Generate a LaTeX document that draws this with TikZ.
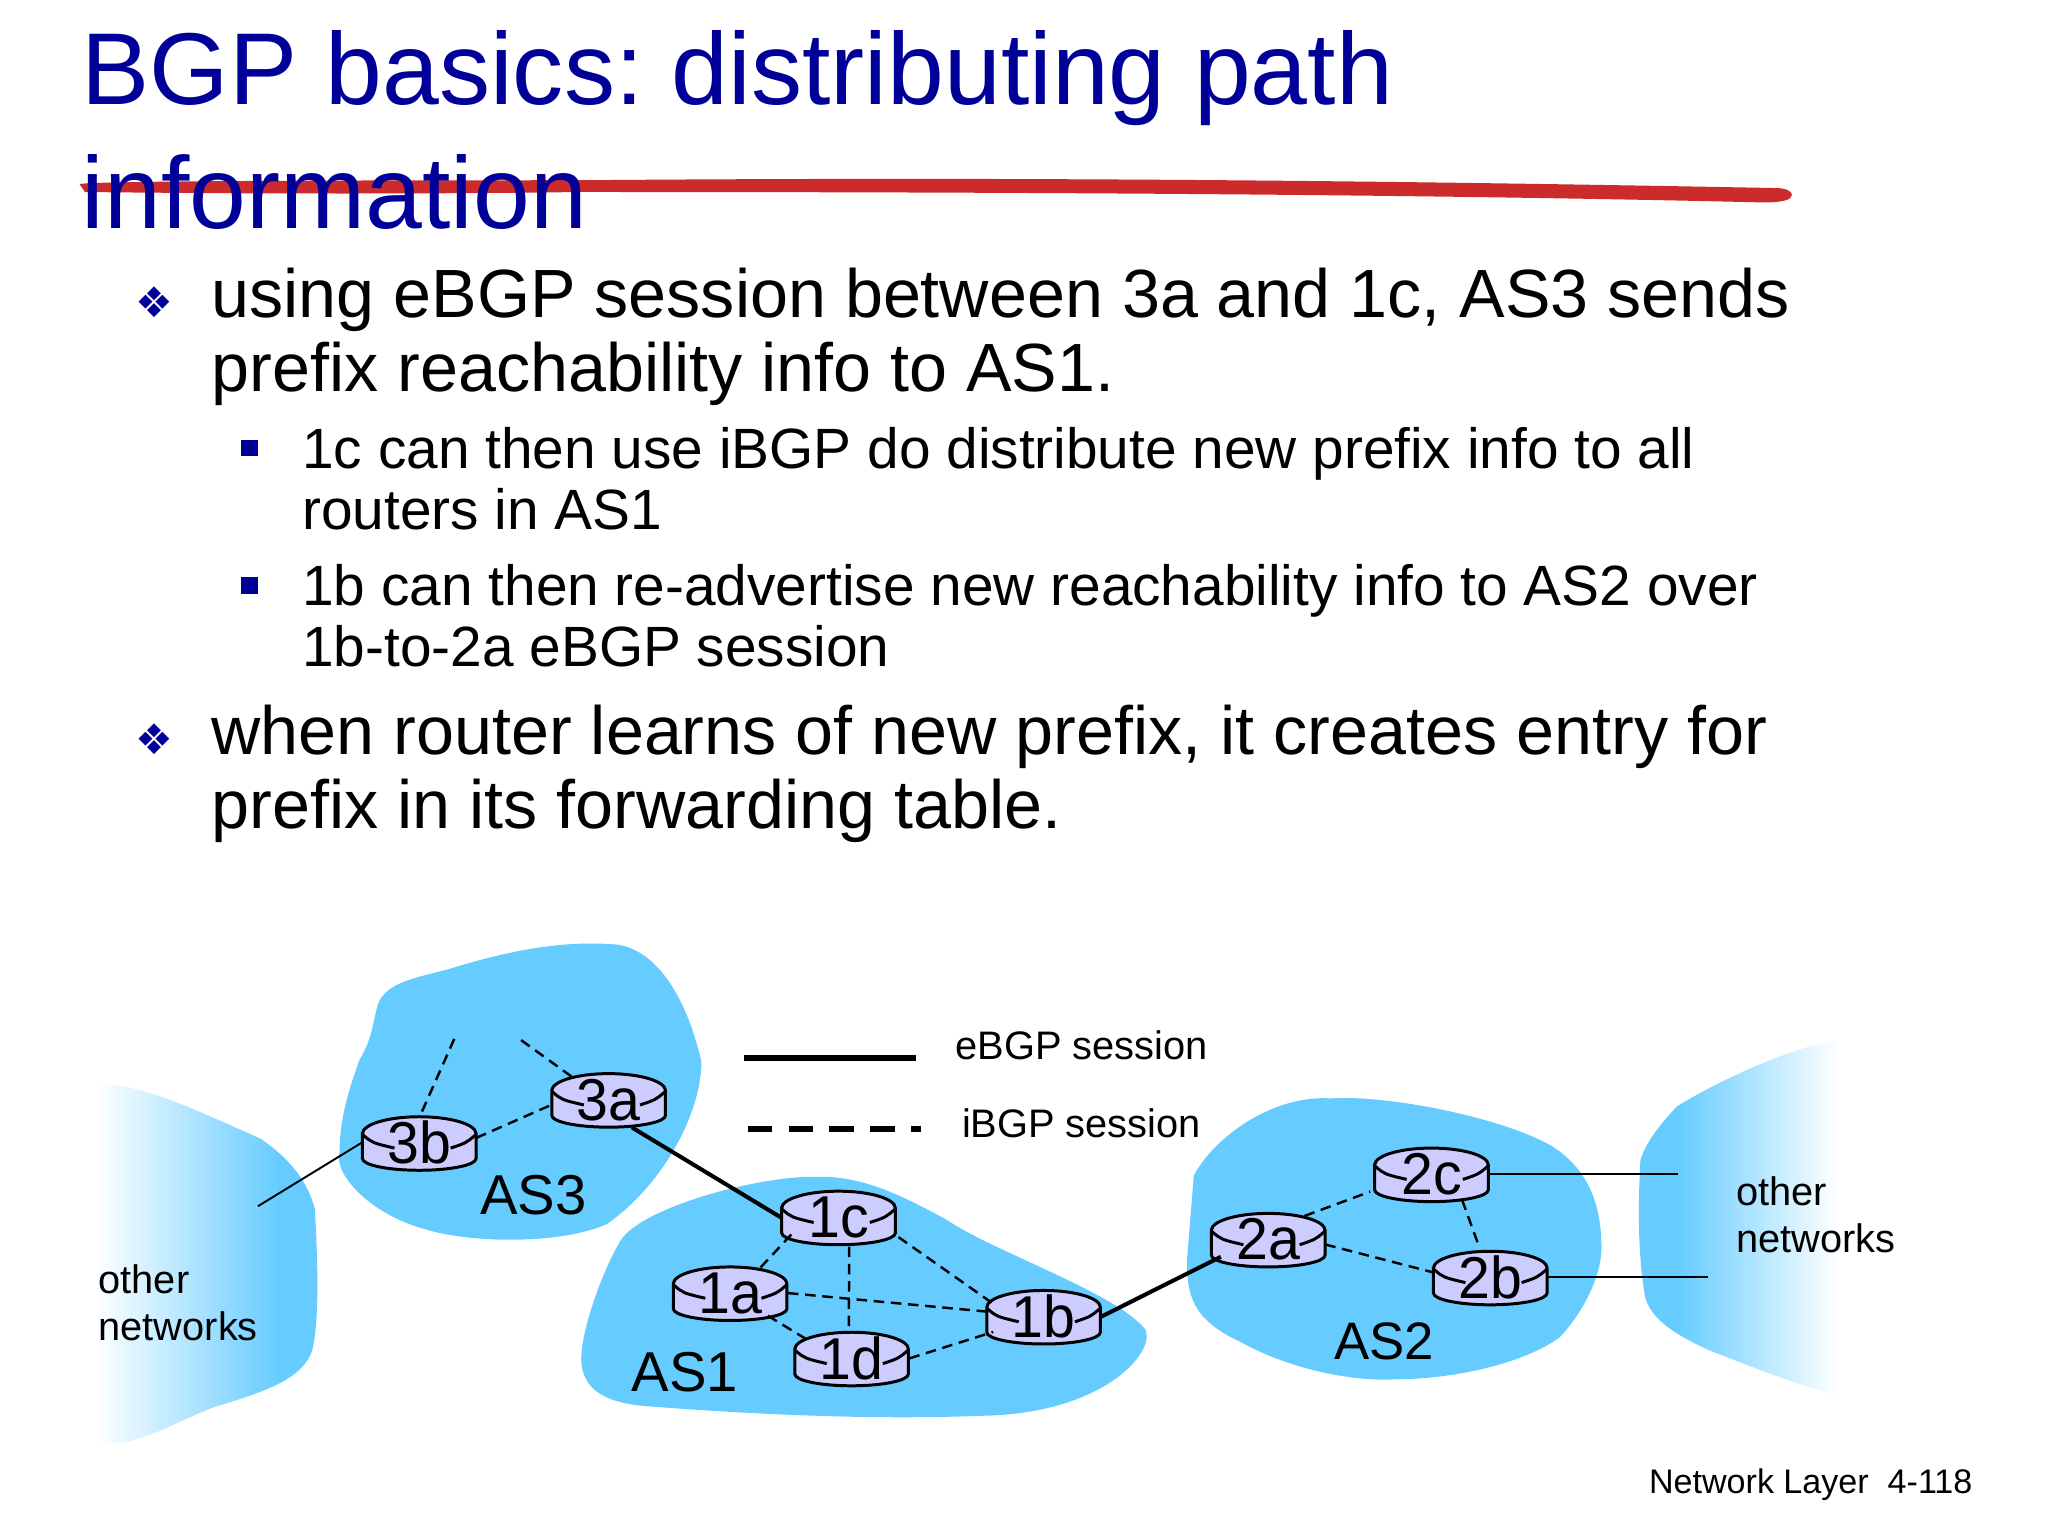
\documentclass[tikz,border=0pt]{standalone}
\usepackage{fontspec}
\setmainfont{Liberation Sans}
\newfontfamily\symbolfont{DejaVu Sans}
\newfontfamily\routerfont[FakeStretch=0.97]{Liberation Sans}
\usetikzlibrary{shapes.geometric, positioning, calc}
\definecolor{titleblue}{HTML}{000099}
\definecolor{cloudblue}{HTML}{66CCFF}
\definecolor{routerlilac}{HTML}{CCCCFF}
\definecolor{markred}{HTML}{CC2B2B}
\pgfdeclarehorizontalshading{fadeleft}{100bp}{color(0bp)=(white); color(26bp)=(white); color(66bp)=(cloudblue); color(100bp)=(cloudblue)}
\pgfdeclarehorizontalshading{faderight}{100bp}{color(0bp)=(cloudblue); color(34bp)=(cloudblue); color(69.5bp)=(white); color(100bp)=(white)}
\tikzset{
  titletext/.style={anchor=base west, inner sep=0pt, text=titleblue, font=\fontsize{29.06}{35}\selectfont},
  bigtext/.style={anchor=base west, inner sep=0pt, font=\fontsize{19.42}{21}\selectfont},
  smalltext/.style={anchor=base west, inner sep=0pt, font=\fontsize{16.16}{17.5}\selectfont},
  labeltext/.style={anchor=base west, inner sep=0pt, font=\fontsize{11.32}{13}\selectfont},
  astext/.style={anchor=base west, inner sep=0pt, font=\fontsize{16}{18}\selectfont},
  diamondbullet/.style={inner sep=0pt, text=titleblue, font=\symbolfont\fontsize{12}{14}\selectfont},
  squarebullet/.style={inner sep=0pt, minimum size=4.83pt, fill=titleblue},
  routerlabel/.style={ellipse, inner sep=0pt, minimum width=32.5pt, minimum height=15.5pt, font=\routerfont\fontsize{16.8}{17}\selectfont},
  routerline/.style={black, line width=0.85pt},
  session/.style={black, line width=0.7pt, dash pattern=on 3pt off 1.9pt},
  ebgp/.style={black, line width=1.15pt},
  outlink/.style={black, line width=0.55pt}
}
\begin{document}
\frenchspacing
\begin{tikzpicture}[x=0.013061cm, y=-0.013061cm]
  \useasboundingbox (0,0) rectangle (1568,1176);

  % Red mark under the title
  \fill[markred] (61,141) .. controls (64,139) and (200,138) .. (445,138)
    .. controls (800,135) and (1100,139) .. (1360,144)
    .. controls (1368,144) and (1372,147) .. (1372,149)
    .. controls (1372,153) and (1365,155) .. (1350,155)
    .. controls (1100,149) and (800,147) .. (445,147)
    .. controls (300,149) and (150,148) .. (65,147) -- cycle;

  % Title
  \node[titletext] (title1) at (62,80) {BGP basics: distributing path};
  \node[titletext] (title2) at (62,175) {information};

  % Bullets
  \node[diamondbullet] (bullet1) at (118,231) {❖};
  \node[bigtext] (line1) at (161.5,243) {using eBGP session between 3a and 1c, AS3 sends};
  \node[bigtext] (line2) at (161.5,299.5) {prefix reachability info to AS1.};
  \node[squarebullet] (bullet2) at (191,343) {};
  \node[smalltext] (line3) at (231,359) {1c can then use iBGP do distribute new prefix info to all};
  \node[smalltext] (line4) at (231,405.5) {routers in AS1};
  \node[squarebullet] (bullet3) at (191,448) {};
  \node[smalltext] (line5) at (231,463.5) {1b can then re-advertise new reachability info to AS2 over};
  \node[smalltext] (line6) at (231,510.5) {1b-to-2a eBGP session};
  \node[diamondbullet] (bullet4) at (118,566) {❖};
  \node[bigtext] (line7) at (161.5,578) {when router learns of new prefix, it creates entry for};
  \node[bigtext] (line8) at (161.5,634.5) {prefix in its forwarding table.};

  % Other networks clouds
  \shade[shading=fadeleft] (70,830) -- (75,830) .. controls (110,830) and (150,850) .. (200,872)
    .. controls (225,890) and (235,905) .. (241,925)
    .. controls (243,960) and (245,1010) .. (239,1034)
    .. controls (232,1055) and (205,1065) .. (165,1077)
    .. controls (135,1088) and (110,1105) .. (85,1105) -- (70,1105) -- cycle;
  \shade[shading=faderight] (1425,795) -- (1409,795) .. controls (1370,803) and (1320,825) .. (1284,847)
    .. controls (1270,862) and (1260,875) .. (1256,888)
    .. controls (1254,920) and (1254,960) .. (1259,990)
    .. controls (1262,1012) and (1290,1025) .. (1309,1034)
    .. controls (1340,1046) and (1380,1062) .. (1409,1069) -- (1425,1069) -- cycle;

  % Autonomous systems
  \fill[cloudblue] (470,723) .. controls (500,725) and (525,760) .. (537,813)
    .. controls (537,850) and (510,905) .. (465,937)
    .. controls (430,953) and (360,952) .. (325,941)
    .. controls (285,930) and (255,900) .. (260,882)
    .. controls (260,860) and (265,840) .. (275,812)
    .. controls (285,795) and (285,785) .. (289,770)
    .. controls (295,750) and (325,748) .. (350,740)
    .. controls (390,728) and (430,720) .. (470,723) -- cycle;
  \fill[cloudblue] (625,901) .. controls (660,900) and (690,915) .. (725,934)
    .. controls (760,958) and (855,990) .. (877,1018)
    .. controls (885,1035) and (845,1083) .. (750,1084)
    .. controls (650,1088) and (540,1080) .. (500,1077)
    .. controls (465,1075) and (445,1065) .. (445,1040)
    .. controls (445,1020) and (460,975) .. (475,950)
    .. controls (490,925) and (580,900) .. (625,901) -- cycle;
  \fill[cloudblue] (914,900) -- (909,962) .. controls (908,990) and (912,1010) .. (949,1027)
    .. controls (990,1050) and (1040,1058) .. (1069,1056)
    .. controls (1110,1056) and (1165,1045) .. (1194,1024)
    .. controls (1212,1005) and (1228,975) .. (1226,950)
    .. controls (1225,920) and (1215,895) .. (1189,878)
    .. controls (1150,855) and (1060,838) .. (1019,841)
    .. controls (975,838) and (930,870) .. (914,900) -- cycle;

  % Routers
  \foreach \name/\x/\y in {3a/466/842, 3b/321/875, 1c/642/932, 1a/559/990, 1b/799/1008, 1d/652/1040, 2a/971/949, 2b/1141/978, 2c/1096/899} {
    \filldraw[routerline, fill=routerlilac]
      (\x-43.5,\y-7) -- (\x-43.5,\y+12) arc[start angle=180, end angle=360, x radius=43.5, y radius=-9]
      -- (\x+43.5,\y-7) arc[start angle=0, end angle=180, x radius=43.5, y radius=-13] -- cycle;
    \draw[routerline] (\x-43,\y-6) .. controls (\x-36,\y) .. (\x-19,\y+4);
    \draw[routerline] (\x+43,\y-6) .. controls (\x+36,\y) .. (\x+24,\y+4);
    \node[routerlabel] (r\name) at (\x,\y) {\name};
  }

  % Sessions
  \draw[ebgp] (r3a.-50) -- (r1c.west);
  \draw[ebgp] (r1b.east) -- (r2a.-160);
  \draw[session] (r3b.5) -- (r3a.-175);
  \draw[session] (r1c.-160) -- (r1a.40);
  \draw[session] (r1c.-70) -- (r1d.95);
  \draw[session, shorten <=3pt] (r1c.-15) -- (r1b.165);
  \draw[session] (r1a.east) -- (r1b.175);
  \draw[session] (r1a.-31) -- (r1d.157);
  \draw[session] (r1d.east) -- (r1b.-163);
  \draw[session, shorten >=3pt] (r2a.33) -- (r2c.-165);
  \draw[session] (r2a.-5) -- (r2b.175);
  \draw[session] (r2c.-40) -- (r2b.110);
  \coordinate (stub3a) at (398.5,796);
  \coordinate (stub3b) at (348,795);
  \coordinate (exit3b) at (197.5,923.5);
  \coordinate (exit2c) at (1285,899);
  \coordinate (exit2b) at (1307.5,978);
  \draw[session] (r3a.148) -- (stub3a);
  \draw[session] (r3b.85) -- (stub3b);
  \draw[outlink] (r3b.west) -- (exit3b);
  \draw[outlink] (r2c.east) -- (exit2c);
  \draw[outlink] (r2b.east) -- (exit2b);

  % Legend
  \coordinate (ebgpa) at (570,810);
  \coordinate (ebgpb) at (701,810);
  \coordinate (ibgpa) at (572.5,864.5);
  \coordinate (ibgpb) at (705,864.5);
  \draw[black, line width=1.7pt] (ebgpa) -- (ebgpb);
  \draw[black, line width=1.7pt, dash pattern=on 7pt off 4.6pt] (ibgpa) -- (ibgpb);
  \node[labeltext] (ebgplabel) at (731,811) {eBGP session};
  \node[labeltext] (ibgplabel) at (736,871) {iBGP session};

  % Labels
  \node[astext] (as3) at (367,930) {AS3};
  \node[astext] (as1) at (483,1065) {AS1};
  \node[astext, font=\fontsize{15}{18}\selectfont] (as2) at (1021,1041) {AS2};
  \node[labeltext] (other1) at (75,990) {other};
  \node[labeltext] (nets1) at (75,1026) {networks};
  \node[labeltext] (other2) at (1329,923) {other};
  \node[labeltext] (nets2) at (1329,959) {networks};
  \node[inner sep=0pt, anchor=base west, font=\fontsize{9.7}{12}\selectfont] (pageno) at (1262,1143.5) {Network Layer\ \ 4-118};
\end{tikzpicture}
\end{document}
